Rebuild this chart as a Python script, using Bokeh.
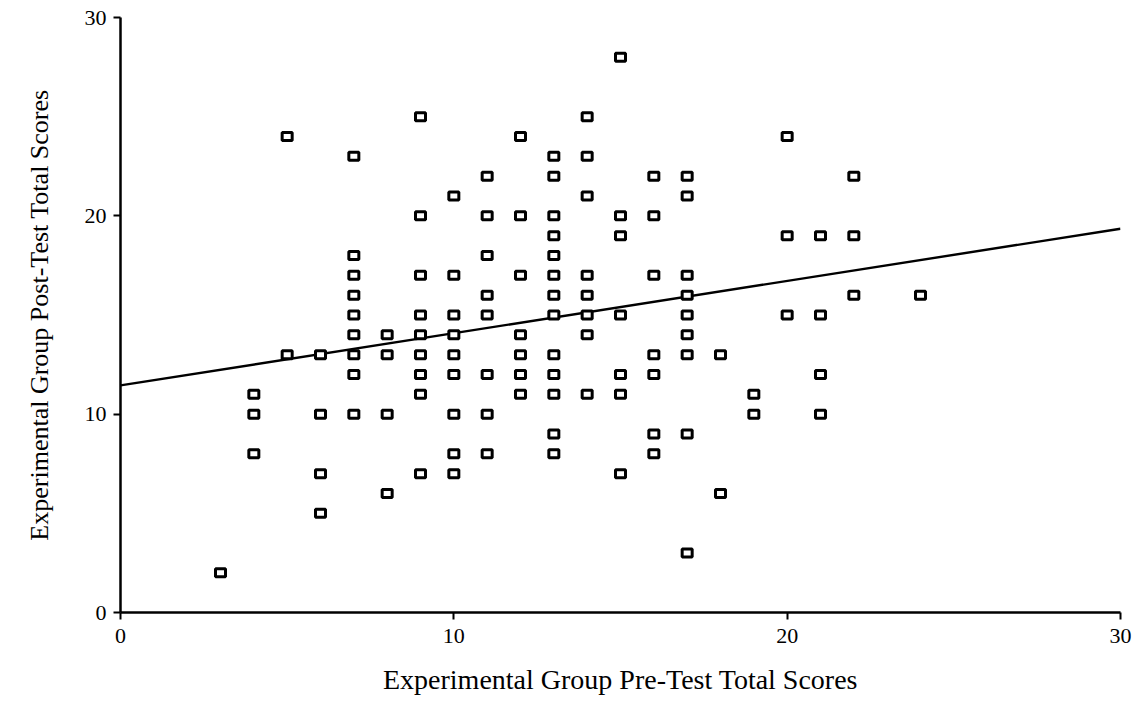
from bokeh.plotting import figure
from bokeh.models import Range1d, FixedTicker
from bokeh.embed import file_html
from bokeh.resources import INLINE

# Pre-test score (x) for each student
pre_scores = [
    3,
    4, 4, 4,
    5, 5,
    6, 6, 6, 6,
    7, 7, 7, 7, 7, 7, 7, 7, 7,
    8, 8, 8, 8,
    9, 9, 9, 9, 9, 9, 9, 9, 9,
    10, 10, 10, 10, 10, 10, 10, 10, 10,
    11, 11, 11, 11, 11, 11, 11, 11,
    12, 12, 12, 12, 12, 12, 12,
    13, 13, 13, 13, 13, 13, 13, 13, 13, 13, 13, 13, 13,
    14, 14, 14, 14, 14, 14, 14, 14,
    15, 15, 15, 15, 15, 15, 15,
    16, 16, 16, 16, 16, 16, 16,
    17, 17, 17, 17, 17, 17, 17, 17, 17,
    18, 18,
    19, 19,
    20, 20, 20,
    21, 21, 21, 21,
    22, 22, 22,
    24,
]
# Post-test score (y) for each student
post_scores = [
    2,
    11, 10, 8,
    24, 13,
    13, 10, 7, 5,
    23, 18, 17, 16, 15, 14, 13, 12, 10,
    14, 13, 10, 6,
    25, 20, 17, 15, 14, 13, 12, 11, 7,
    21, 17, 15, 14, 13, 12, 10, 8, 7,
    22, 20, 18, 16, 15, 12, 10, 8,
    24, 20, 17, 14, 13, 12, 11,
    23, 22, 20, 19, 18, 17, 16, 15, 13, 12, 11, 9, 8,
    25, 23, 21, 17, 16, 15, 14, 11,
    28, 20, 19, 15, 12, 11, 7,
    22, 20, 17, 13, 12, 9, 8,
    22, 21, 17, 16, 15, 14, 13, 9, 3,
    13, 6,
    11, 10,
    24, 19, 15,
    19, 15, 12, 10,
    22, 19, 16,
    16,
]

# Fitted regression line at its ends
fit_x = [0, 30]
fit_y = [11.45, 19.35]

axis_ticks = [0, 10, 20, 30]

p = figure(
    width=1139, height=724,
    output_backend="svg", toolbar_location=None,
    x_range=Range1d(0, 30), y_range=Range1d(0, 30),
    min_border_left=120, min_border_right=19,
    min_border_top=17, min_border_bottom=112,
    background_fill_color="white", border_fill_color="white",
)
p.outline_line_color = None
p.grid.visible = False

p.line(fit_x, fit_y, line_color="black", line_width=2.4)
p.rect(pre_scores, post_scores, width=10, height=8,
       width_units="screen", height_units="screen",
       fill_color="white", line_color="black", line_width=3)

serif = "Liberation Serif"
for ax in (p.xaxis[0], p.yaxis[0]):
    ax.ticker = FixedTicker(ticks=axis_ticks)
    ax.axis_line_color = "black"
    ax.axis_line_width = 2.5
    ax.major_tick_line_color = "black"
    ax.major_tick_line_width = 2
    ax.major_tick_out = 7
    ax.major_tick_in = 0
    ax.minor_tick_line_color = None
    ax.major_label_text_font = serif
    ax.major_label_text_font_size = "22px"
    ax.major_label_text_color = "black"
    ax.axis_label_text_font = serif
    ax.axis_label_text_font_style = "normal"
    ax.axis_label_text_color = "black"

p.xaxis.axis_label = "Experimental Group Pre-Test Total Scores"
p.xaxis.axis_label_text_font_size = "28px"
p.xaxis.major_label_standoff = 9
p.xaxis.axis_label_standoff = 18

p.yaxis.axis_label = "Experimental Group Post-Test Total Scores"
p.yaxis.axis_label_text_font_size = "26px"
p.yaxis.major_label_standoff = 7
p.yaxis.axis_label_standoff = 28

open("out.html", "w").write(file_html(p, INLINE))
